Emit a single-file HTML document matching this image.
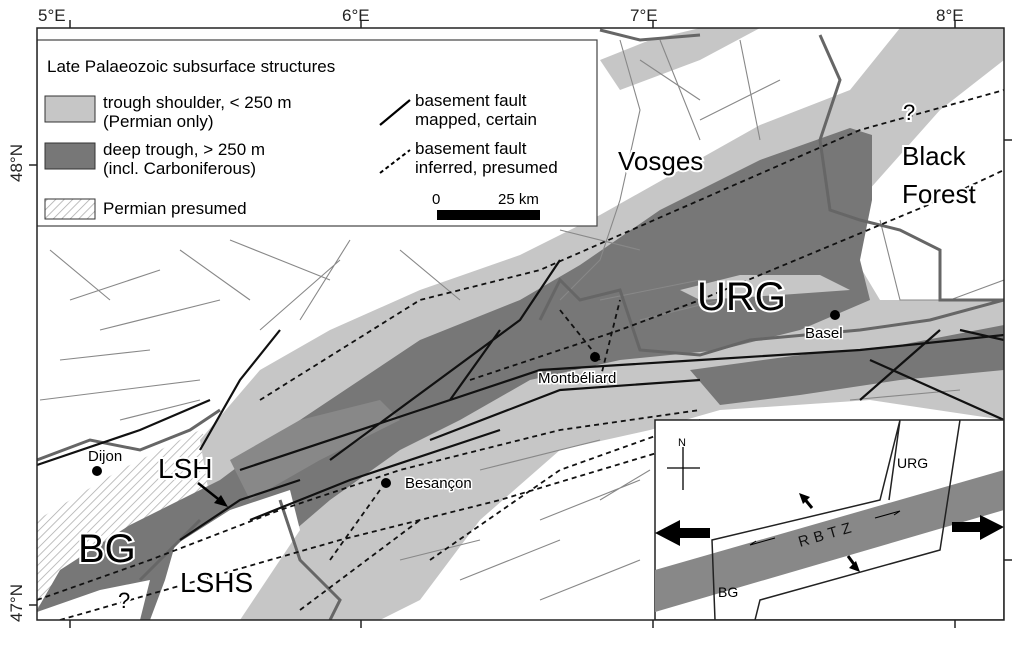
<!DOCTYPE html>
<html><head><meta charset="utf-8"><style>
html,body{margin:0;padding:0;background:#fff}
svg{display:block;font-family:"Liberation Sans",Arial,sans-serif}
</style></head><body>
<svg width="1023" height="654" viewBox="0 0 1023 654" xmlns="http://www.w3.org/2000/svg">
<defs>
<pattern id="h" width="6" height="6" patternUnits="userSpaceOnUse" patternTransform="rotate(45)">
<rect width="6" height="6" fill="#fff"/><line x1="0" y1="0" x2="0" y2="6" stroke="#aaa" stroke-width="1.5"/></pattern>
</defs>
<rect width="1023" height="654" fill="#fff"/>
<g font-size="17" fill="#222">
<text x="38" y="21">5°E</text><text x="342" y="21">6°E</text><text x="630" y="21">7°E</text><text x="936" y="21">8°E</text>
<text transform="translate(22,182) rotate(-90)">48°N</text>
<text transform="translate(22,622) rotate(-90)">47°N</text>
</g>
<g clip-path="url(#c)">
<clipPath id="c"><rect x="37" y="28" width="967" height="592"/></clipPath>
<polygon points="37,520 120,470 200,430 230,470 170,520 120,580 60,620 37,620" fill="url(#h)"/>
<polygon points="600,395 640,370 680,372 690,395 650,410 610,408" fill="url(#h)"/>
<polygon points="200,440 260,370 330,330 420,290 520,255 600,215 680,170 760,125 850,90 900,28 1004,28 1004,60 940,110 860,200 850,250 880,300 1004,300 1004,420 870,400 720,410 650,430 560,450 480,520 420,600 380,620 170,620 190,560 210,500" fill="#c6c6c6"/>
<polygon points="600,60 650,40 700,28 760,28 700,60 620,90" fill="#c6c6c6"/>
<polygon points="37,610 60,570 130,525 220,480 300,420 420,340 520,300 580,265 660,210 760,160 850,128 872,135 872,200 860,260 870,300 800,330 720,350 620,360 530,380 460,420 400,450 330,500 260,560 200,620 37,620" fill="#777"/>
<polygon points="680,290 740,275 820,275 850,290 780,295 700,300" fill="#c6c6c6"/>
<polygon points="690,370 800,355 900,345 1004,325 1004,370 900,380 800,395 720,405" fill="#777"/>
<polygon points="230,460 300,420 380,400 400,420 320,460 250,500" fill="#888"/>
<!-- white LSHS area and lower-left -->
<polygon points="175,545 230,510 290,490 300,530 270,575 240,620 150,620 165,580" fill="#fff"/>
<polygon points="37,620 37,612 100,590 150,580 140,620" fill="#fff"/>
<g stroke="#888" stroke-width="1.1" fill="none">
<path d="M50,250 L110,300 M70,300 L160,270 M100,330 L220,300 M60,360 L150,350 M180,250 L250,300 M230,240 L330,280 M260,330 L340,260 M350,240 L300,320 M400,250 L460,300 M40,400 L200,380 M120,420 L200,400 M560,230 L640,250 M640,60 L700,100 M700,120 L780,80 M600,300 L700,280 M640,320 L720,300 M850,400 L960,390 M900,430 L940,450 M400,560 L480,540 M460,580 L560,540 M540,600 L640,560 M480,470 L600,440 M540,520 L640,480 M600,500 L650,470"/>
<path d="M620,40 L640,110 L620,200 L600,260 L560,300 M660,40 L700,140 M740,40 L760,140 M880,220 L900,300 L950,300 L1004,280"/>
</g>
<g stroke="#666" stroke-width="3" fill="none">
<path d="M37,460 L90,440 L140,450 L190,430 L220,410 M600,30 L640,40 L700,35 M820,35 L840,80 L820,140 L830,210 L860,220 L900,230 L940,250 L940,300 L1004,300"/>
<path d="M540,320 L560,280 L580,300 L620,290 L640,350 L700,355 L750,340 L860,330 L930,320 L1004,300"/>
<path d="M280,500 L300,560 L340,600 L330,620 M140,580 L200,520"/>
</g>
<g stroke="#111" stroke-width="2.2" fill="none">
<path d="M37,465 L140,430 L210,400 M200,450 L240,380 L280,330 M330,460 L520,320 L560,260 M240,470 L420,410 L540,370 L700,360 L860,350 L1004,335 M430,440 L560,390 L700,380 M250,520 L350,480 L500,430 M180,540 L240,500 L300,480 M450,400 L500,330 M870,360 L1004,420 M860,400 L940,330 M960,330 L1004,340"/>
</g>
<g stroke="#111" stroke-width="1.8" stroke-dasharray="5,4" fill="none">
<path d="M37,600 L150,560 L280,510 L400,470 L560,430 L700,410 M60,620 L200,580 L340,540 L500,500 L700,440 M260,400 L420,300 L540,270 L700,200 L860,130 L1004,90 M470,380 L620,330 L700,300 L820,250 L940,200 L1004,170 M600,380 L620,300 M560,310 L600,360 M430,560 L560,470 L700,420 M300,610 L420,520 M330,560 L380,490"/>
</g>
<g fill="#000"><circle cx="97" cy="471" r="5"/><circle cx="386" cy="483" r="5"/><circle cx="595" cy="357" r="5"/><circle cx="835" cy="315" r="5"/></g>
<g font-size="15" fill="#000" stroke="#fff" stroke-width="3" paint-order="stroke">
<text x="88" y="461">Dijon</text><text x="405" y="488">Besançon</text><text x="538" y="383">Montbéliard</text><text x="805" y="338">Basel</text>
</g>
<g fill="#000" stroke="#fff" stroke-width="4" paint-order="stroke">
<text x="618" y="170" font-size="26">Vosges</text>
<text x="902" y="165" font-size="26">Black</text>
<text x="902" y="203" font-size="26">Forest</text>
<text x="697" y="310" font-size="40">URG</text>
<text x="158" y="478" font-size="28">LSH</text>
<text x="78" y="562" font-size="40">BG</text>
<text x="180" y="592" font-size="28">LSHS</text>
<text x="118" y="608" font-size="22">?</text>
<text x="903" y="120" font-size="22">?</text>
</g>
<path d="M198,483 L222,502" stroke="#000" stroke-width="2.5"/>
<polygon points="228,507 214,503 221,495" fill="#000"/>
<rect x="37" y="40" width="560" height="186" fill="#fff" stroke="#444" stroke-width="1.2"/>
<g font-size="17" fill="#000">
<text x="47" y="72">Late Palaeozoic subsurface structures</text>
<text x="103" y="108">trough shoulder, &lt; 250 m</text>
<text x="103" y="127">(Permian only)</text>
<text x="103" y="155">deep trough, &gt; 250 m</text>
<text x="103" y="174">(incl. Carboniferous)</text>
<text x="103" y="214">Permian presumed</text>
<text x="415" y="106">basement fault</text>
<text x="415" y="125">mapped, certain</text>
<text x="415" y="154">basement fault</text>
<text x="415" y="173">inferred, presumed</text>
<text x="432" y="204" font-size="15">0</text>
<text x="498" y="204" font-size="15">25 km</text>
</g>
<rect x="45" y="96" width="50" height="26" fill="#c6c6c6" stroke="#333"/>
<rect x="45" y="143" width="50" height="26" fill="#777" stroke="#333"/>
<rect x="45" y="199" width="50" height="20" fill="url(#h)" stroke="#333"/>
<line x1="380" y1="125" x2="410" y2="100" stroke="#000" stroke-width="2.2"/>
<line x1="380" y1="173" x2="410" y2="150" stroke="#000" stroke-width="2" stroke-dasharray="4,3"/>
<rect x="437" y="210" width="103" height="10" fill="#000"/>
<rect x="655" y="420" width="349" height="200" fill="#fff" stroke="#222" stroke-width="1.5"/>
<polygon points="655,570 1004,470 1004,510 655,612" fill="#888"/>
<g stroke="#222" stroke-width="1.5" fill="none">
<path d="M715,620 L712,540 L880,500 L900,420 M900,420 L889,500 M960,420 L940,550 L760,600 L755,620"/>
</g>
<text transform="translate(800,547) rotate(-16)" font-size="15" letter-spacing="5" fill="#111">RBTZ</text>
<text x="897" y="468" font-size="14">URG</text>
<text x="718" y="597" font-size="14">BG</text>
<g stroke="#000" stroke-width="1.3"><line x1="683" y1="447" x2="683" y2="490"/><line x1="667" y1="468" x2="700" y2="468"/></g>
<text x="678" y="446" font-size="11">N</text>
<polygon points="655,533 680,520 680,528 710,528 710,538 680,538 680,546" fill="#000"/>
<polygon points="1004,527 980,515 980,522 952,522 952,532 980,532 980,540" fill="#000"/>
<g stroke="#000" stroke-width="3"><line x1="812" y1="508" x2="803" y2="497"/><line x1="848" y1="556" x2="856" y2="567"/></g>
<polygon points="799,493 810,497 803,504" fill="#000"/><polygon points="860,572 849,568 856,561" fill="#000"/>
<path d="M750,545 L775,538 M750,545 L756,541" stroke="#000" stroke-width="1" fill="none"/>
<path d="M875,518 L900,511 M900,511 L894,515" stroke="#000" stroke-width="1" fill="none"/>
</g>
<rect x="37" y="28" width="967" height="592" fill="none" stroke="#222" stroke-width="1.5"/>
<g stroke="#222" stroke-width="1.5">
<line x1="70" y1="28" x2="70" y2="20"/><line x1="361" y1="28" x2="361" y2="20"/><line x1="653" y1="28" x2="653" y2="20"/><line x1="955" y1="28" x2="955" y2="20"/>
<line x1="70" y1="620" x2="70" y2="628"/><line x1="361" y1="620" x2="361" y2="628"/><line x1="653" y1="620" x2="653" y2="628"/><line x1="955" y1="620" x2="955" y2="628"/>
<line x1="37" y1="165" x2="29" y2="165"/><line x1="37" y1="605" x2="29" y2="605"/>
<line x1="1004" y1="140" x2="1012" y2="140"/><line x1="1004" y1="560" x2="1012" y2="560"/>
</g>
</svg>
</body></html>
